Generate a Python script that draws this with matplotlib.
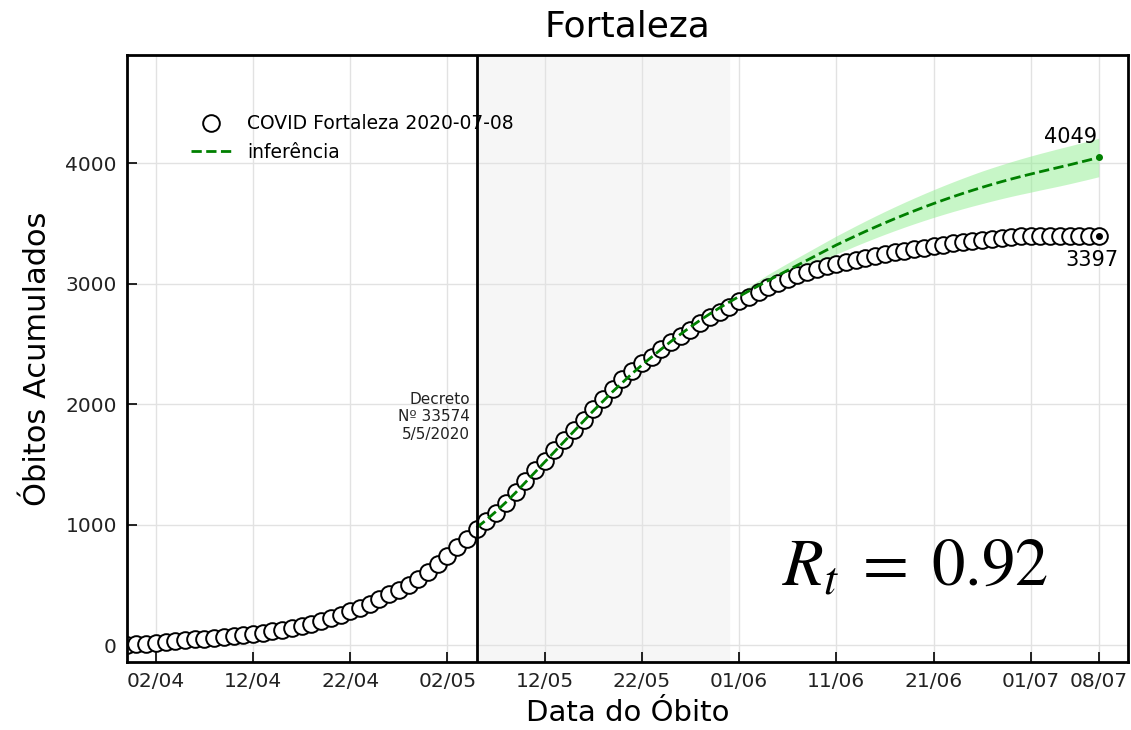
import numpy as np
import pandas as pd
import matplotlib
matplotlib.use("Agg")
import matplotlib.pyplot as plt
import matplotlib.dates as mdates

# ---------- DATA ----------
inicio = "2020-03-30"
obitos = [3, 8, 13, 19, 26, 33, 40, 47, 54, 61,
          68, 76, 85, 94, 104, 116, 129, 143, 158, 176,
          198, 224, 252, 282, 312, 345, 382, 422, 458, 495,
          552, 610, 670, 740, 812, 885, 965, 1030,
          1095, 1180, 1275, 1360, 1450, 1532, 1620, 1704, 1787, 1870,
          1962, 2041, 2130, 2210, 2272, 2340, 2390, 2455, 2518, 2565,
          2617, 2675, 2727, 2769, 2810,
          2858, 2892, 2930, 2972, 3010, 3042, 3072, 3096, 3120, 3144,
          3162, 3182, 3200, 3218, 3232, 3248, 3262, 3275, 3288, 3300,
          3312, 3324, 3336, 3347, 3358, 3367, 3376, 3384, 3390, 3395,
          3397, 3397, 3397, 3397, 3397, 3397, 3397, 3397]

inicio_inferencia = "2020-05-05"
inferencia = [975, 1040, 1110, 1185, 1265, 1350, 1435, 1520, 1605, 1690,
              1775, 1860, 1945, 2025, 2105, 2180, 2255, 2325, 2392, 2458,
              2522, 2583, 2642, 2698, 2751, 2801, 2849, 2895, 2940, 2984,
              3027, 3070, 3112, 3154, 3196, 3238, 3280, 3322, 3360, 3398,
              3435, 3471, 3506, 3540, 3573, 3605, 3636, 3666, 3695, 3723,
              3750, 3776, 3801, 3825, 3848, 3870, 3891, 3911, 3931, 3950,
              3969, 3988, 4008, 4028, 4049]
incerteza = [0, 1, 2, 3, 4, 5, 6, 7, 8, 9,
             10, 11, 12, 13, 14, 15, 16, 17, 18, 19,
             20, 21, 22, 23, 24, 25, 27, 30, 36, 44,
             52, 56, 60, 63, 66, 69, 72, 75, 79, 83,
             87, 91, 95, 99, 103, 107, 111, 115, 119, 123,
             127, 131, 135, 138, 141, 144, 147, 150, 152, 154,
             156, 157, 158, 159, 160]

decreto = "2020-05-05"
fim_faixa = "2020-05-31"
ticks = ["2020-04-02", "2020-04-12", "2020-04-22", "2020-05-02", "2020-05-12",
         "2020-05-22", "2020-06-01", "2020-06-11", "2020-06-21", "2020-07-01",
         "2020-07-08"]
rt = 0.92

datas = pd.date_range(inicio, periods=len(obitos))
datas_inf = pd.date_range(inicio_inferencia, periods=len(inferencia))
inf = np.array(inferencia)
inc = np.array(incerteza)

plt.rcParams["mathtext.fontset"] = "stix"

# ---------- PLOT ----------
fig = plt.figure(figsize=(11.31, 7.3), dpi=100)
ax = fig.add_axes([0.112, 0.0932, 0.8853, 0.8315])

ax.axvspan(pd.Timestamp(decreto), pd.Timestamp(fim_faixa), color="#f6f6f6", zorder=0)
ax.grid(True, color="#e2e2e2", linewidth=1, zorder=0)
ax.set_axisbelow(True)

ax.fill_between(datas_inf, inf - inc, inf + inc, color="lightgreen", alpha=0.5,
                linewidth=0, zorder=1)
ax.plot(datas, obitos, "o", markersize=12, markerfacecolor="white",
        markeredgecolor="black", markeredgewidth=1.4, zorder=2,
        label="COVID Fortaleza 2020-07-08")
ax.plot(datas_inf, inf, "--", color="green", linewidth=2, zorder=3,
        label="inferência")
ax.plot(datas_inf[-1], inf[-1], "o", color="green", markersize=4, zorder=4)
ax.plot(datas[-1], obitos[-1], "o", color="black", markersize=4, zorder=4)

ax.annotate(str(inferencia[-1]), (datas_inf[-1], inf[-1]), xytext=(-20, 15),
            textcoords="offset points", ha="center", va="center", fontsize=15)
ax.annotate(str(obitos[-1]), (datas[-1], obitos[-1]), xytext=(-5, -17),
            textcoords="offset points", ha="center", va="center", fontsize=15)

ax.axvline(pd.Timestamp(decreto), color="black", linewidth=2, zorder=3)
ax.text(pd.Timestamp(decreto) - pd.Timedelta(hours=16), 1690,
        "Decreto\nNº 33574\n5/5/2020", ha="right", va="bottom", fontsize=11,
        color="#222222")

ax.text(0.787, 0.157, r"$R_t\;=\;%.2f$" % rt, transform=ax.transAxes,
        ha="center", va="center", fontsize=48)

ax.set_xlim(pd.Timestamp("2020-03-30"), pd.Timestamp("2020-07-11"))
ax.set_ylim(-140, 4900)
ax.set_xticks(pd.to_datetime(ticks))
ax.xaxis.set_major_formatter(mdates.DateFormatter("%d/%m"))
ax.set_yticks([0, 1000, 2000, 3000, 4000])
ax.tick_params(direction="in", length=7, width=1.2, labelsize=14.5, pad=7,
               labelcolor="#222222")
for s in ax.spines.values():
    s.set_linewidth(2)

ax.set_title("Fortaleza", fontsize=26, pad=13)
ax.set_xlabel("Data do Óbito", fontsize=21, labelpad=6)
ax.set_ylabel("Óbitos Acumulados", fontsize=22, labelpad=10)

ax.legend(loc="upper left", bbox_to_anchor=(0.047, 0.93), frameon=False,
          fontsize=13.5, handlelength=2.2)

plt.savefig("out.png", dpi=100)
